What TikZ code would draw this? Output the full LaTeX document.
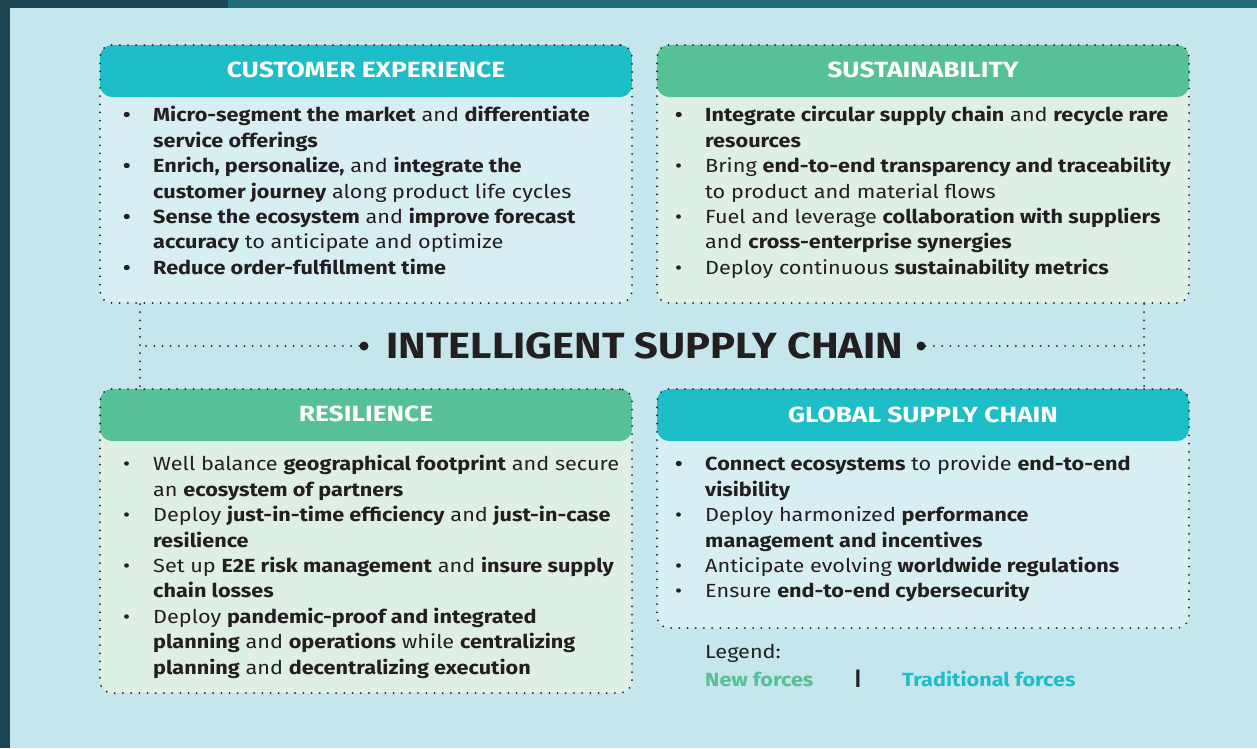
\documentclass[tikz,border=0pt]{standalone}
\usepackage{fontspec}
\setmainfont{Fira Sans}[FakeStretch=1.14]
\newfontfamily\headfont{Fira Sans}[FakeStretch=1.2]
\definecolor{pagebg}{HTML}{C4E6EC}
\definecolor{frame}{HTML}{1B4550}
\definecolor{band}{HTML}{1F6B78}
\definecolor{teal}{HTML}{1DBEC7}
\definecolor{mint}{HTML}{56C096}
\definecolor{tealbody}{HTML}{D7EFF2}
\definecolor{mintbody}{HTML}{DEEFE5}
\definecolor{ink}{HTML}{231F20}
\newcommand\pointb{\textbf{\textbullet}}
\newcommand\pointl{\textbullet}
\begin{document}
\begin{tikzpicture}[x=1pt,y=-1pt,
  box/.style={draw=ink, line width=2pt, dash pattern=on 0pt off 8.2pt, line cap=round,
    rounded corners=12pt, minimum width=532pt, inner sep=0pt, anchor=north west},
  hdr/.style={path picture={\fill[#1] (path picture bounding box.north west)
    rectangle ([yshift=-52pt]path picture bounding box.north east);}},
  headtxt/.style={text=white, font=\headfont\bfseries\fontsize{22}{25}\selectfont},
  items/.style={anchor=north west, inner sep=0pt, text=ink, font=\fontsize{19}{25.4}\selectfont},
  link/.style={draw=ink, line width=2pt, dash pattern=on 0pt off 8.2pt, line cap=round},
  knot/.style={circle, fill=ink, inner sep=0pt, minimum size=9pt}]
\useasboundingbox (0,0) rectangle (1257,748);
% page
\fill[pagebg] (0,0) rectangle (1257,748);
\fill[frame] (0,0) rectangle (10,748);
\fill[frame] (0,0) rectangle (228,8);
\fill[band] (228,0) rectangle (1257,8);

% four boxes
\node[box, fill=tealbody, hdr=teal, minimum height=258pt] (ce) at (99,44) {};
\node[box, fill=mintbody, hdr=mint, minimum height=258pt] (sus) at (656,44) {};
\node[box, fill=mintbody, hdr=mint, minimum height=304pt] (res) at (99,388) {};
\node[box, fill=tealbody, hdr=teal, minimum height=239pt] (gsc) at (656,388) {};

\node[headtxt] (ceh) at (ce.north |- 0,70) {CUSTOMER EXPERIENCE};
\node[headtxt] (sush) at (sus.north |- 0,70) {SUSTAINABILITY};
\node[headtxt] (resh) at (res.north |- 0,414) {RESILIENCE};
\node[headtxt] (gsch) at (gsc.north |- 0,415) {GLOBAL SUPPLY CHAIN};

\node[items] (cetxt) at (123,104) {\begin{tabular}{@{}p{30pt}@{}l@{}}
\pointb & \textbf{Micro-segment the market} and \textbf{differentiate}\\
 & \textbf{service offerings}\\
\pointb & \textbf{Enrich, personalize,} and \textbf{integrate the}\\
 & \textbf{customer journey} along product life cycles\\
\pointb & \textbf{Sense the ecosystem} and \textbf{improve forecast}\\
 & \textbf{accuracy} to anticipate and optimize\\
\pointb & \textbf{Reduce order-fulfillment time}
\end{tabular}};

\node[items] (sustxt) at (675,104) {\begin{tabular}{@{}p{30pt}@{}l@{}}
\pointb & \textbf{Integrate circular supply chain} and \textbf{recycle rare}\\
 & \textbf{resources}\\
\pointl & Bring \textbf{end-to-end transparency and traceability}\\
 & to product and material flows\\
\pointl & Fuel and leverage \textbf{collaboration with suppliers}\\
 & and \textbf{cross-enterprise synergies}\\
\pointl & Deploy continuous \textbf{sustainability metrics}
\end{tabular}};

\node[items] (restxt) at (123,453) {\begin{tabular}{@{}p{30pt}@{}l@{}}
\pointl & Well balance \textbf{geographical footprint} and secure\\
 & an \textbf{ecosystem of partners}\\
\pointl & Deploy \textbf{just-in-time efficiency} and \textbf{just-in-case}\\
 & \textbf{resilience}\\
\pointl & Set up \textbf{E2E risk management} and \textbf{insure supply}\\
 & \textbf{chain losses}\\
\pointl & Deploy \textbf{pandemic-proof and integrated}\\
 & \textbf{planning} and \textbf{operations} while \textbf{centralizing}\\
 & \textbf{planning} and \textbf{decentralizing execution}
\end{tabular}};

\node[items] (gsctxt) at (675,453) {\begin{tabular}{@{}p{30pt}@{}l@{}}
\pointb & \textbf{Connect ecosystems} to provide \textbf{end-to-end}\\
 & \textbf{visibility}\\
\pointl & Deploy harmonized \textbf{performance}\\
 & \textbf{management and incentives}\\
\pointl & Anticipate evolving \textbf{worldwide regulations}\\
\pointl & Ensure \textbf{end-to-end cybersecurity}
\end{tabular}};

% centre title and links
\node[text=ink, font=\bfseries\fontsize{36.5}{40}\selectfont] (title) at (645,346) {INTELLIGENT SUPPLY CHAIN};
\node[knot] (ldot) at (364,346) {};
\node[knot] (rdot) at (921,346) {};
\coordinate (lj) at (140,346);
\coordinate (rj) at (1144,346);
\draw[link] (ldot.west) -- (lj);
\draw[link] (rdot.east) -- (rj);
\draw[link] (ce.south -| lj) -- (res.north -| lj);
\draw[link] (sus.south -| rj) -- (gsc.north -| rj);

% legend
\node[anchor=west, inner sep=0pt, text=ink, font=\fontsize{19}{22}\selectfont] (leg) at (705,653) {Legend:};
\node[anchor=west, inner sep=0pt, text=mint, font=\bfseries\fontsize{19}{22}\selectfont] (newf) at (705,679) {New forces};
\node[inner sep=0pt, text=ink, font=\bfseries\fontsize{19}{22}\selectfont] (bar) at (858,679) {|};
\node[anchor=west, inner sep=0pt, text=teal, font=\bfseries\fontsize{19}{22}\selectfont] (tradf) at (902,679) {Traditional forces};
\end{tikzpicture}
\end{document}
